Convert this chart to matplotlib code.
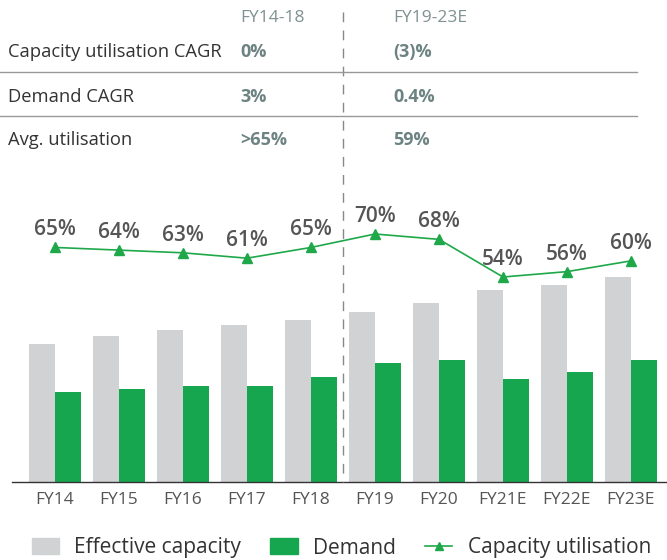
import matplotlib.pyplot as plt
from matplotlib.patches import Patch
from matplotlib.lines import Line2D

years = ["FY14", "FY15", "FY16", "FY17", "FY18", "FY19", "FY20", "FY21E", "FY22E", "FY23E"]
capacity = [138, 146, 152, 157, 162, 170, 179, 192, 197, 205]
demand = [90, 93, 96, 96, 105, 119, 122, 103, 110, 122]
utilisation = [65, 64, 63, 61, 65, 70, 68, 54, 56, 60]

row_labels = ["Capacity utilisation CAGR", "Demand CAGR", "Avg. utilisation"]
col_headers = ["FY14-18", "FY19-23E"]
col1_vals = ["0%", "3%", ">65%"]
col2_vals = ["(3)%", "0.4%", "59%"]

GRAY = "#d1d2d4"
GREEN = "#17a650"
LINE_GREEN = "#1fa84a"
TEXT = "#333333"
MUTED = "#7f9190"
VAL = "#6d8382"

plt.rcParams['font.family'] = ['Open Sans', 'DejaVu Sans']

W, H = 667, 560
fig = plt.figure(figsize=(W / 100, H / 100), dpi=100)

# bar axes: baseline at y=482 px from x=12, top at y=200 px
ax = fig.add_axes([12 / W, 1 - 482 / H, (W - 12) / W, (482 - 200) / H])
x = list(range(len(years)))
w = 0.41
ax.bar([i - w / 2 for i in x], capacity, width=w, color=GRAY)
ax.bar([i + w / 2 for i in x], demand, width=w, color=GREEN)
ax.set_xlim((12 - 55) / 64, (667 - 55) / 64)
ax.set_ylim(0, 282)
ax.set_xticks(x)
ax.set_xticklabels(years, fontsize=12.5, color="#555555")
ax.tick_params(axis="x", length=0, pad=7)
ax.set_yticks([])
for s in ["top", "right", "left"]:
    ax.spines[s].set_visible(False)
ax.spines["bottom"].set_color("#333333")
ax.spines["bottom"].set_linewidth(1.0)

ax2 = ax.twinx()
ax2.plot(x, utilisation, color=LINE_GREEN, lw=1.2, marker="^", ms=7)
ax2.set_ylim(70 - (482 - 234) / 2.6875, 70 + (234 - 200) / 2.6875)
ax2.axis("off")
for i, v in enumerate(utilisation):
    ax2.annotate(f"{v}%", (i, v), xytext=(0, 5), textcoords="offset points",
                 ha="center", va="bottom", fontsize=15, color="#555555",
                 fontweight="semibold")

# dashed divider between FY18 and FY19
fig.add_artist(Line2D([343 / W, 343 / W], [1 - 12 / H, 1 - 482 / H],
                      color="#888888", lw=1, ls=(0, (7, 6))))

# summary table
fig.text(240 / W, 1 - 18 / H, col_headers[0], fontsize=12.5, color=MUTED, va="center")
fig.text(393 / W, 1 - 18 / H, col_headers[1], fontsize=12.5, color=MUTED, va="center")
row_y = [52, 97, 140]
for lab, a, b, y in zip(row_labels, col1_vals, col2_vals, row_y):
    fig.text(8 / W, 1 - y / H, lab, fontsize=13.2, color=TEXT, va="center")
    fig.text(240 / W, 1 - y / H, a, fontsize=13, color=VAL, va="center", fontweight="bold")
    fig.text(393 / W, 1 - y / H, b, fontsize=13, color=VAL, va="center", fontweight="bold")
for y in [72, 116]:
    fig.add_artist(Line2D([0, 637 / W], [1 - y / H, 1 - y / H], color="#999999", lw=1))

handles = [Patch(color=GRAY, label="Effective capacity"),
           Patch(color=GREEN, label="Demand"),
           Line2D([], [], color=LINE_GREEN, marker="^", ms=6, lw=1.2, label="Capacity utilisation")]
fig.legend(handles=handles, loc="center", bbox_to_anchor=(0.512, 1 - 548 / H), ncol=3,
           frameon=False, fontsize=15, handlelength=1.3, handleheight=0.8,
           columnspacing=1.4, handletextpad=0.75, labelcolor=TEXT)

fig.savefig("out.png", dpi=100)
